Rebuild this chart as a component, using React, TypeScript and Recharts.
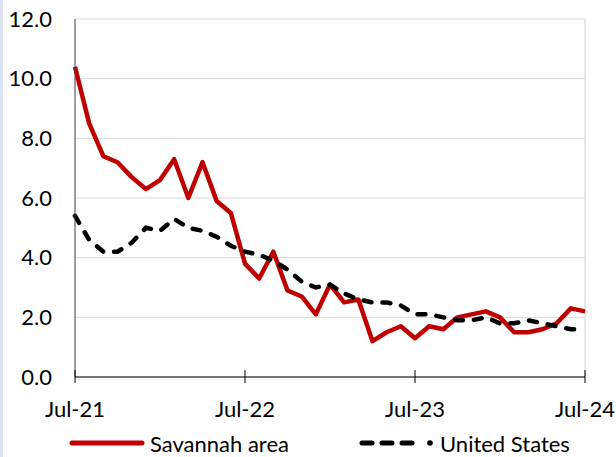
import React from "react";
import {
  LineChart,
  Line,
  XAxis,
  YAxis,
  CartesianGrid,
  ReferenceLine,
  Legend,
} from "recharts";

const MONTHS = [
  "Jul-21", "Aug-21", "Sep-21", "Oct-21", "Nov-21", "Dec-21",
  "Jan-22", "Feb-22", "Mar-22", "Apr-22", "May-22", "Jun-22",
  "Jul-22", "Aug-22", "Sep-22", "Oct-22", "Nov-22", "Dec-22",
  "Jan-23", "Feb-23", "Mar-23", "Apr-23", "May-23", "Jun-23",
  "Jul-23", "Aug-23", "Sep-23", "Oct-23", "Nov-23", "Dec-23",
  "Jan-24", "Feb-24", "Mar-24", "Apr-24", "May-24", "Jun-24",
  "Jul-24",
];

const SAVANNAH = [
  10.4, 8.5, 7.4, 7.2, 6.7, 6.3, 6.6, 7.3, 6.0, 7.2, 5.9, 5.5,
  3.8, 3.3, 4.2, 2.9, 2.7, 2.1, 3.1, 2.5, 2.6, 1.2, 1.5, 1.7,
  1.3, 1.7, 1.6, 2.0, 2.1, 2.2, 2.0, 1.5, 1.5, 1.6, 1.8, 2.3,
  2.2,
];

const UNITED_STATES = [
  5.4, 4.6, 4.2, 4.2, 4.5, 5.0, 4.9, 5.3, 5.0, 4.9, 4.7, 4.4,
  4.2, 4.1, 3.9, 3.6, 3.2, 3.0, 3.1, 2.8, 2.6, 2.5, 2.5, 2.4,
  2.1, 2.1, 2.0, 1.9, 1.9, 2.0, 1.8, 1.8, 1.9, 1.8, 1.7, 1.6,
  1.6,
];

const Y_TICKS = [0, 2, 4, 6, 8, 10, 12];
const X_TICKS = ["Jul-21", "Jul-22", "Jul-23", "Jul-24"];

const FONT = "Lato, 'Open Sans', sans-serif";
const RED = "#C00000";

const data = MONTHS.map((m, i) => ({
  month: m,
  savannah: SAVANNAH[i],
  us: UNITED_STATES[i],
}));

function MonthTick(props: any) {
  const { x, y, payload } = props;
  return (
    <g>
      <line x1={x} x2={x} y1={y - 7} y2={y + 6} stroke="#000" strokeWidth={1} />
      <text
        x={x}
        y={y + 31}
        textAnchor="middle"
        dominantBaseline="central"
        fontFamily={FONT}
        fontSize={22}
        fill="#000"
      >
        {payload.value}
      </text>
    </g>
  );
}

function LegendBox() {
  return (
    <svg width={616} height={40} style={{ display: "block" }}>
      <line x1={72} x2={142} y1={26} y2={26} stroke={RED} strokeWidth={5} strokeLinecap="round" />
      <text x={150} y={26} dominantBaseline="central" fontFamily={FONT} fontSize={22} fill="#000">
        Savannah area
      </text>
      <line
        x1={362}
        x2={418}
        y1={26}
        y2={26}
        stroke="#000"
        strokeWidth={5}
        strokeLinecap="round"
        strokeDasharray="10 10"
      />
      <circle cx={430} cy={26} r={2.8} fill="#000" />
      <text x={440} y={26} dominantBaseline="central" fontFamily={FONT} fontSize={22} fill="#000">
        United States
      </text>
    </svg>
  );
}

export default function App() {
  return (
    <div
      style={{
        position: "absolute",
        left: 0,
        top: 0,
        width: 616,
        height: 457,
        background: "#fff",
        overflow: "hidden",
      }}
    >
      <div style={{ position: "absolute", left: 0, top: 0, width: 3, height: 457, background: "#dae3f3" }} />
      <LineChart
        width={616}
        height={457}
        data={data}
        margin={{ top: 19, right: 31, bottom: 0, left: 0 }}
      >
        <CartesianGrid vertical={false} stroke="#d9d9d9" strokeWidth={1} />
        <ReferenceLine x="Jul-24" stroke="#d0d0d0" strokeWidth={1} />
        <XAxis
          dataKey="month"
          ticks={X_TICKS}
          interval={0}
          height={40}
          tickSize={0}
          tickMargin={0}
          tickLine={false}
          axisLine={{ stroke: "#000", strokeWidth: 1 }}
          tick={<MonthTick />}
        />
        <YAxis
          domain={[0, 12]}
          ticks={Y_TICKS}
          width={75}
          tickSize={0}
          tickMargin={23}
          tickLine={false}
          axisLine={{ stroke: "#404040", strokeWidth: 1 }}
          tickFormatter={(v: number) => v.toFixed(1)}
          tick={{ fill: "#000", fontSize: 22, fontFamily: FONT }}
        />
        <Line
          dataKey="savannah"
          name="Savannah area"
          stroke={RED}
          strokeWidth={4.5}
          dot={false}
          strokeLinejoin="round"
          isAnimationActive={false}
        />
        <Line
          dataKey="us"
          name="United States"
          stroke="#000"
          strokeWidth={4.5}
          strokeDasharray="8 11"
          strokeLinecap="round"
          dot={false}
          isAnimationActive={false}
        />
        <Legend verticalAlign="bottom" content={<LegendBox />} />
      </LineChart>
    </div>
  );
}
